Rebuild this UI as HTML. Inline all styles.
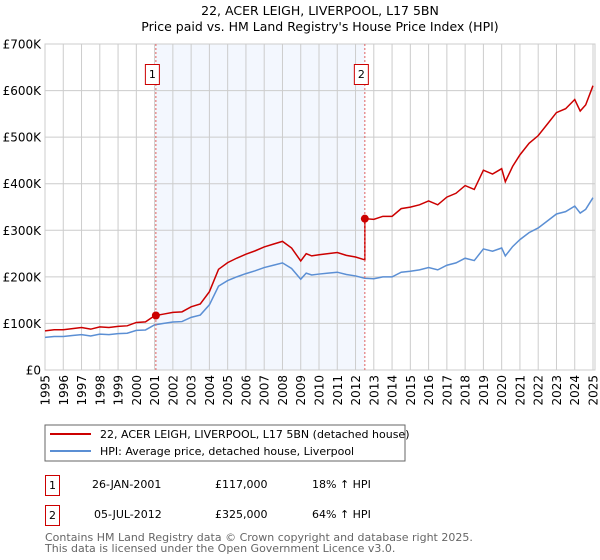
<!DOCTYPE html>
<html><head><meta charset="utf-8"><style>
body{margin:0;background:#fff;}
svg{display:block;font-family:"DejaVu Sans","Liberation Sans",sans-serif;}
</style></head><body>
<svg id="chart" width="600" height="560">
<text x="320" y="15" text-anchor="middle" font-size="12.5">22, ACER LEIGH, LIVERPOOL, L17 5BN</text>
<text x="320" y="31" text-anchor="middle" font-size="12.5">Price paid vs. HM Land Registry's House Price Index (HPI)</text>
<g id="grid"></g><g id="axes"></g><g id="series"></g>
<rect x="45" y="425" width="360" height="36" fill="none" stroke="#666"/>
<line x1="50" y1="434" x2="91" y2="434" stroke="#cc0000" stroke-width="2"/>
<text x="100" y="438" font-size="11">22, ACER LEIGH, LIVERPOOL, L17 5BN (detached house)</text>
<line x1="50" y1="451" x2="91" y2="451" stroke="#5b8fd4" stroke-width="2"/>
<text x="100" y="455" font-size="11">HPI: Average price, detached house, Liverpool</text>
<g font-size="11">
<rect x="45.5" y="475.5" width="14" height="20" fill="#fff" stroke="#cc0000"/>
<text x="52.5" y="489" text-anchor="middle">1</text>
<text x="92" y="488">26-JAN-2001</text><text x="215" y="488">£117,000</text><text x="312" y="488">18% ↑ HPI</text></g>
<g font-size="11">
<rect x="45.5" y="505.5" width="14" height="20" fill="#fff" stroke="#cc0000"/>
<text x="52.5" y="519" text-anchor="middle">2</text>
<text x="94" y="518">05-JUL-2012</text><text x="215" y="518">£325,000</text><text x="312" y="518">64% ↑ HPI</text></g>
<text x="45" y="541" font-size="11" fill="#666">Contains HM Land Registry data © Crown copyright and database right 2025.</text>
<text x="45" y="552" font-size="11" fill="#666">This data is licensed under the Open Government Licence v3.0.</text>
</svg>
<script>
const yTicks=[0,100000,200000,300000,400000,500000,600000,700000];
const yTickLabels=["£0","£100K","£200K","£300K","£400K","£500K","£600K","£700K"];
const xYears=[1995,1996,1997,1998,1999,2000,2001,2002,2003,2004,2005,2006,2007,2008,2009,2010,2011,2012,2013,2014,2015,2016,2017,2018,2019,2020,2021,2022,2023,2024,2025];
const hpiDates=[1995,1995.5,1996,1996.5,1997,1997.5,1998,1998.5,1999,1999.5,2000,2000.5,2001,2001.5,2002,2002.5,2003,2003.5,2004,2004.5,2005,2005.5,2006,2006.5,2007,2007.5,2008,2008.5,2009,2009.3,2009.6,2010,2010.5,2011,2011.5,2012,2012.5,2013,2013.5,2014,2014.5,2015,2015.5,2016,2016.5,2017,2017.5,2018,2018.5,2019,2019.5,2020,2020.2,2020.6,2021,2021.5,2022,2022.5,2023,2023.5,2024,2024.3,2024.6,2025];
const hpiValues=[70000,72000,72000,74000,76000,73000,77000,76000,78000,79000,85000,86000,97000,100000,103000,104000,113000,118000,140000,180000,192000,200000,207000,213000,220000,225000,230000,218000,195000,208000,204000,206000,208000,210000,205000,202000,197000,196000,200000,200000,210000,212000,215000,220000,215000,225000,230000,240000,235000,260000,255000,262000,245000,265000,280000,295000,305000,320000,335000,340000,352000,337000,345000,370000];
const saleDates=[2001.07,2012.51];
const salePrices=[117000,325000];
const saleLabels=["1","2"];
const L=45,R=593,T=44,B=370;
const x=d=>L+(d-1995)/30*(R-L);
const y=v=>B-v/700000*(B-T);
const NS="http://www.w3.org/2000/svg";
function mk(tag,attrs,parent){const e=document.createElementNS(NS,tag);for(const k in attrs)e.setAttribute(k,attrs[k]);parent.appendChild(e);return e;}
const grid=document.getElementById('grid'),axes=document.getElementById('axes'),ser=document.getElementById('series');
const shade=mk('rect',{x:x(saleDates[0]),y:T,width:x(saleDates[1])-x(saleDates[0]),height:B-T,fill:'#eef3fd',opacity:0.7},grid);


yTicks.forEach((v,i)=>{
 const g=mk('line',{x1:L,x2:R+2,y1:y(v),y2:y(v),stroke:'#ccc'},grid);
 
 
 const t=mk('text',{x:41,y:y(v)+4.5,'text-anchor':'end','font-size':12},axes);
 t.textContent=yTickLabels[i];
 
 
});
xYears.forEach(yr=>{
 const g=mk('line',{x1:x(yr),x2:x(yr),y1:T,y2:B,stroke:'#ccc'},grid);
 
 
 const t=mk('text',{x:0,y:0,'text-anchor':'end','font-size':12,transform:`translate(${x(yr)+4.5},${B+5}) rotate(-90)`},axes);
 t.textContent=yr;
 
 
});
const frame=mk('rect',{x:L,y:T,width:R-L+2,height:B-T,fill:'none',stroke:'#ccc'},axes);


// interpolate HPI at a date
function hpiAt(d){for(let i=1;i<hpiDates.length;i++){if(d<=hpiDates[i]){const f=(d-hpiDates[i-1])/(hpiDates[i]-hpiDates[i-1]);return hpiValues[i-1]+f*(hpiValues[i]-hpiValues[i-1]);}}return hpiValues[hpiValues.length-1];}
const r1=salePrices[0]/hpiAt(saleDates[0]),r2=salePrices[1]/hpiAt(saleDates[1]);
let pts=[];
hpiDates.forEach((d,i)=>{if(d<saleDates[1])pts.push([d,hpiValues[i]*r1]);});
pts.push([saleDates[1],hpiAt(saleDates[1])*r1]);
pts.push([saleDates[1],salePrices[1]]);
hpiDates.forEach((d,i)=>{if(d>saleDates[1])pts.push([d,hpiValues[i]*r2]);});
const hpiLine=mk('polyline',{points:hpiDates.map((d,i)=>x(d)+','+y(hpiValues[i])).join(' '),fill:'none',stroke:'#5b8fd4','stroke-width':1.5},ser);


const propLine=mk('polyline',{points:pts.map(p=>x(p[0])+','+y(p[1])).join(' '),fill:'none',stroke:'#cc0000','stroke-width':1.5},ser);


saleDates.forEach((d,i)=>{
 const vl=mk('line',{x1:x(d),x2:x(d),y1:T,y2:B,stroke:'#e06060','stroke-dasharray':'2,2'},ser);
 
 
 const c=mk('circle',{cx:x(d),cy:y(salePrices[i]),r:4,fill:'#cc0000'},ser);
 
 
 const b=mk('rect',{x:x(d)-10.5,y:64.5,width:14,height:20,fill:'#fff',stroke:'#cc0000'},ser);
 
 
 const t=mk('text',{x:x(d)-3.5,y:78,'text-anchor':'middle','font-size':11},ser);
 t.textContent=saleLabels[i];
 
 
});
</script>
</body></html>
